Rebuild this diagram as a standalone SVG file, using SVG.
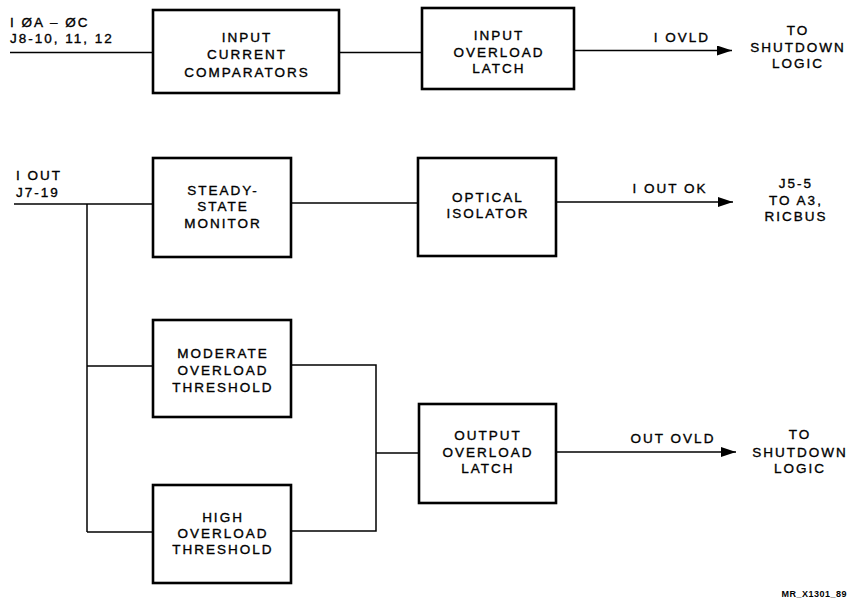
<svg xmlns="http://www.w3.org/2000/svg" width="849" height="603" viewBox="0 0 849 603">
<style>
.box{fill:#fff;stroke:#000;stroke-width:2.6}
.ln{fill:none;stroke:#000;stroke-width:1.5}
text{font-family:"Liberation Sans",Arial,sans-serif;font-size:13.5px;fill:#000;stroke:#000;stroke-width:0.35;letter-spacing:2px}
.c{text-anchor:middle}
.sm{font-size:9px;font-weight:bold;letter-spacing:0.5px;text-anchor:end;stroke-width:0}
</style>
<defs>
<marker id="ah" markerWidth="16" markerHeight="10" refX="15" refY="5" orient="auto" markerUnits="userSpaceOnUse">
<path d="M0,0 L15,5 L0,10 Z" fill="#000"/>
</marker>
</defs>
<g id="connectors">
<path class="ln" d="M10,52.5 H153"/>
<path class="ln" d="M339,52.5 H421"/>
<path class="ln" d="M574,50.5 H732" marker-end="url(#ah)"/>
<path class="ln" d="M14,204 H153"/>
<path class="ln" d="M87,204 V532"/>
<path class="ln" d="M291,203 H418"/>
<path class="ln" d="M556,202 H733" marker-end="url(#ah)"/>
<path class="ln" d="M87,366 H153"/>
<path class="ln" d="M87,532 H153"/>
<path class="ln" d="M291,365 H376 V531 H291"/>
<path class="ln" d="M376,453 H419"/>
<path class="ln" d="M556,452 H736" marker-end="url(#ah)"/>
</g>
<g id="lbl-in">
<text x="10" y="27">I ØA – ØC</text>
<text x="10" y="43">J8-10, 11, 12</text>
</g>
<g id="lbl-iout">
<text x="16" y="180">I OUT</text>
<text x="16" y="197">J7-19</text>
</g>
<g id="n1"><rect class="box" x="153" y="10" width="186" height="83"/>
<text class="c" x="247" y="42">INPUT</text><text class="c" x="247" y="59">CURRENT</text><text class="c" x="247" y="77">COMPARATORS</text></g>
<g id="n2"><rect class="box" x="422" y="8" width="152" height="81"/>
<text class="c" x="499" y="40">INPUT</text><text class="c" x="499" y="57">OVERLOAD</text><text class="c" x="499" y="73">LATCH</text></g>
<g id="n3"><rect class="box" x="153" y="158" width="138" height="99"/>
<text class="c" x="223" y="195">STEADY-</text><text class="c" x="223" y="211">STATE</text><text class="c" x="223" y="228">MONITOR</text></g>
<g id="n4"><rect class="box" x="418" y="158" width="138" height="98"/>
<text class="c" x="488" y="202">OPTICAL</text><text class="c" x="488" y="218">ISOLATOR</text></g>
<g id="n5"><rect class="box" x="153" y="320" width="138" height="97"/>
<text class="c" x="223" y="358">MODERATE</text><text class="c" x="223" y="375">OVERLOAD</text><text class="c" x="223" y="392">THRESHOLD</text></g>
<g id="n6"><rect class="box" x="153" y="485" width="138" height="98"/>
<text class="c" x="223" y="522">HIGH</text><text class="c" x="223" y="538">OVERLOAD</text><text class="c" x="223" y="554">THRESHOLD</text></g>
<g id="n7"><rect class="box" x="419" y="404" width="137" height="99"/>
<text class="c" x="488" y="440">OUTPUT</text><text class="c" x="488" y="457">OVERLOAD</text><text class="c" x="488" y="473">LATCH</text></g>
<g id="out1">
<text class="c" x="682" y="42">I OVLD</text>
<text class="c" x="798" y="35">TO</text><text class="c" x="798" y="52">SHUTDOWN</text><text class="c" x="798" y="68">LOGIC</text>
</g>
<g id="out2">
<text class="c" x="670" y="193">I OUT OK</text>
<text class="c" x="796" y="188">J5-5</text><text class="c" x="796" y="205">TO A3,</text><text class="c" x="796" y="221">RICBUS</text>
</g>
<g id="out3">
<text class="c" x="673" y="443">OUT OVLD</text>
<text class="c" x="800" y="439">TO</text><text class="c" x="800" y="457">SHUTDOWN</text><text class="c" x="800" y="473">LOGIC</text>
</g>
<text class="sm" x="847" y="597">MR_X1301_89</text>
</svg>
